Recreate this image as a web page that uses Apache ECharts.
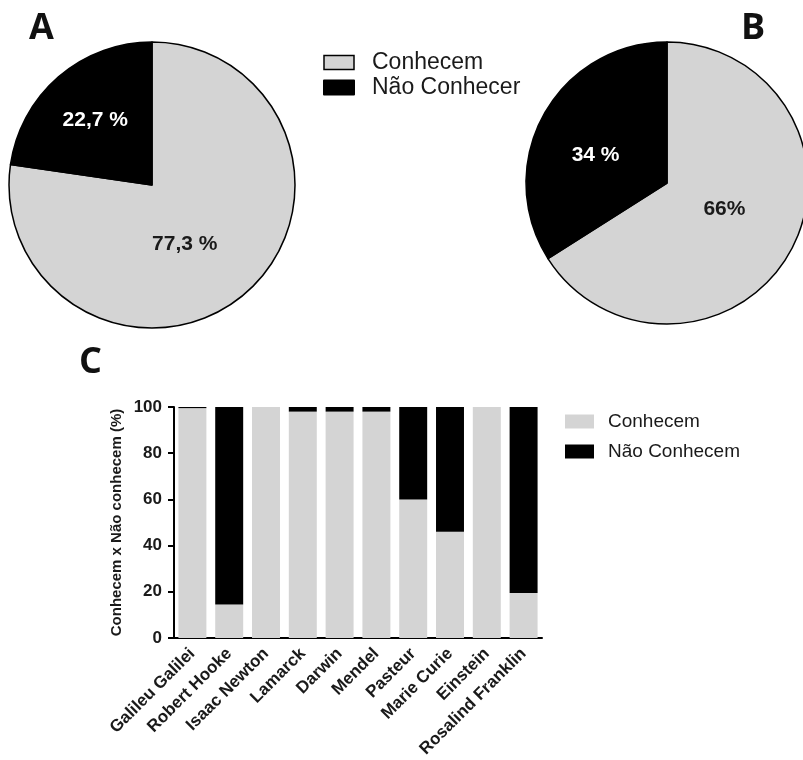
<!DOCTYPE html>
<html>
<head>
<meta charset="utf-8">
<script src="https://cdn.jsdelivr.net/npm/echarts@6/dist/echarts.min.js"></script>
<style>html,body{margin:0;padding:0;background:#fff}#c{width:803px;height:760px}</style>
</head>
<body>
<div id="c"></div>
<script>
// ---- data ----
const pieNames = ['Conhecem', 'Não Conhecer'];
const pieAValues = [77.3, 22.7];
const pieALabels = ['77,3 %', '22,7 %'];
const pieBValues = [66, 34];
const pieBLabels = ['66%', '34 %'];

const categories = ['Galileu Galilei', 'Robert Hooke', 'Isaac Newton', 'Lamarck', 'Darwin', 'Mendel', 'Pasteur', 'Marie Curie', 'Einstein', 'Rosalind Franklin'];
const barNames = ['Conhecem', 'Não Conhecem'];
const conhecem = [99.5, 14.5, 100, 98, 98, 98, 60, 46, 100, 19.5];
const naoConhecem = [0.5, 85.5, 0, 2, 2, 2, 40, 54, 0, 80.5];
const yTicks = [0, 20, 40, 60, 80, 100];
const panelLetters = ['A', 'B', 'C'];

// ---- styles ----
const LIGHT = '#d4d4d4';
const DARK = '#000000';
const TXT = '#1a1a1a';
const SANS = "'Liberation Sans', Arial, sans-serif";
const LETTER = { fontFamily: "'Open Sans', sans-serif", fontSize: 36, fontWeight: 'bold', color: '#111' };

// label fine offsets (style)
const pieAOffsets = [[-16, 3], [-8, -8]];
const pieBOffsets = [[-7, -9], [-7, 8]];

function pieData(values, labels, offsets) {
  return values.map((v, i) => ({
    name: pieNames[i],
    value: v,
    itemStyle: { color: i === 0 ? LIGHT : DARK },
    label: {
      formatter: labels[i],
      color: i === 0 ? TXT : '#ffffff',
      offset: offsets[i]
    }
  }));
}

const pieCommon = {
  type: 'pie',
  startAngle: 90,
  clockwise: true,
  silent: true,
  avoidLabelOverlap: false,
  label: { show: true, position: 'inside', fontSize: 21, fontWeight: 'bold', fontFamily: SANS },
  labelLine: { show: false },
  itemStyle: { borderColor: '#000', borderWidth: 1.5 },
  emphasis: { disabled: true }
};

const chart = echarts.init(document.getElementById('c'), null, { renderer: 'canvas' });
chart.setOption({
  backgroundColor: '#ffffff',
  animation: false,
  title: [
    { text: panelLetters[0], left: 29, top: 11, padding: 0, textStyle: LETTER },
    { text: panelLetters[1], left: 741, top: 11, padding: 0, textStyle: LETTER },
    { text: panelLetters[2], left: 79, top: 345, padding: 0, textStyle: LETTER }
  ],
  legend: [
    {
      orient: 'vertical', left: 323, top: 51, padding: 0,
      icon: 'rect', itemWidth: 30, itemHeight: 14, itemGap: 2,
      selectedMode: false,
      textStyle: { fontFamily: SANS, fontSize: 23, lineHeight: 22, color: TXT, padding: [0, 0, 0, 13] },
      data: [
        { name: pieNames[0], itemStyle: { color: LIGHT, borderColor: '#000', borderWidth: 1.5 } },
        { name: pieNames[1], itemStyle: { color: DARK } }
      ]
    },
    {
      orient: 'vertical', left: 565, top: 412, padding: 0,
      icon: 'rect', itemWidth: 29, itemHeight: 14, itemGap: 11,
      selectedMode: false,
      textStyle: { fontFamily: SANS, fontSize: 19, lineHeight: 19, color: TXT, padding: [0, 0, 0, 9] },
      data: [
        { name: barNames[0], itemStyle: { color: LIGHT, borderWidth: 0 } },
        { name: barNames[1], itemStyle: { color: DARK, borderWidth: 0 } }
      ]
    }
  ],
  grid: { left: 174, right: 261, top: 407, bottom: 122, containLabel: false },
  xAxis: {
    type: 'category',
    data: categories,
    axisLine: { lineStyle: { color: '#000', width: 2 } },
    axisTick: { alignWithLabel: true, length: 6, lineStyle: { color: '#000', width: 2 } },
    axisLabel: { rotate: 45, interval: 0, margin: 13, fontFamily: SANS, fontWeight: 'bold', fontSize: 17, color: TXT }
  },
  yAxis: {
    type: 'value',
    min: yTicks[0], max: yTicks[yTicks.length - 1], interval: yTicks[1] - yTicks[0],
    name: 'Conhecem x Não conhecem (%)',
    nameLocation: 'middle', nameGap: 50, nameRotate: 90,
    nameTextStyle: { fontFamily: SANS, fontWeight: 'bold', fontSize: 15, color: TXT },
    axisLine: { show: true, lineStyle: { color: '#000', width: 2 } },
    axisTick: { show: true, length: 6, lineStyle: { color: '#000', width: 2 } },
    splitLine: { show: false },
    axisLabel: { margin: 12, fontFamily: SANS, fontWeight: 'bold', fontSize: 17, color: TXT }
  },
  series: [
    Object.assign({}, pieCommon, { name: 'A', center: [152, 185], radius: [0, 143], data: pieData(pieAValues, pieALabels, pieAOffsets) }),
    Object.assign({}, pieCommon, { name: 'B', center: [667, 183], radius: [0, 141], data: pieData(pieBValues, pieBLabels, pieBOffsets) }),
    { type: 'bar', name: barNames[0], stack: 'total', data: conhecem, barCategoryGap: '24%', itemStyle: { color: LIGHT }, silent: true },
    { type: 'bar', name: barNames[1], stack: 'total', data: naoConhecem, barCategoryGap: '24%', itemStyle: { color: DARK }, silent: true }
  ]
});
</script>
</body>
</html>
